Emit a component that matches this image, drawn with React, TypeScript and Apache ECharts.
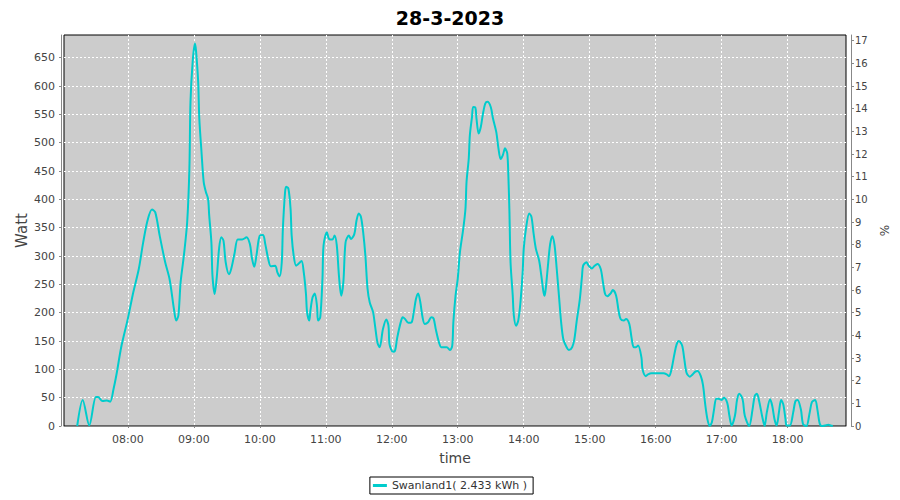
import React, { useEffect, useRef } from "react";
import * as echarts from "echarts";

const TITLE = "28-3-2023";
const SERIES_NAME = "Swanland1( 2.433 kWh )";
const X_NAME = "time";
const Y_NAME = "Watt";
const Y2_NAME = "%";
const X_MIN = "07:02";
const X_MAX = "18:53";
const WATT_MAX = 690;
const WATT_STEP = 50;
const PCT_MAX = 17.25;
const PCT_STEP = 1;

const times: string[] = [
  "07:14", "07:19", "07:25", "07:31", "07:33", "07:37", "07:41", "07:44", "07:47", "07:50",
  "07:54", "08:00", "08:05", "08:10", "08:14", "08:18", "08:22", "08:25", "08:29", "08:34",
  "08:38", "08:42", "08:44", "08:46", "08:48", "08:51", "08:54", "08:56", "08:57", "08:59",
  "09:01", "09:02", "09:04", "09:05", "09:07", "09:09", "09:11", "09:13", "09:14", "09:16",
  "09:17", "09:19", "09:21", "09:23", "09:25", "09:27", "09:29", "09:32", "09:34", "09:37",
  "09:40", "09:44", "09:48", "09:51", "09:53", "09:55", "09:57", "10:00", "10:03", "10:05",
  "10:08", "10:10", "10:14", "10:16", "10:18", "10:20", "10:21", "10:23", "10:24", "10:26",
  "10:28", "10:29", "10:31", "10:33", "10:35", "10:38", "10:40", "10:42", "10:43", "10:45",
  "10:46", "10:48", "10:50", "10:52", "10:53", "10:55", "10:57", "10:58", "11:01", "11:03",
  "11:06", "11:08", "11:10", "11:12", "11:14", "11:16", "11:18", "11:21", "11:23", "11:26",
  "11:28", "11:30", "11:32", "11:34", "11:36", "11:38", "11:40", "11:43", "11:45", "11:47",
  "11:49", "11:52", "11:55", "11:57", "11:58", "12:01", "12:03", "12:05", "12:08", "12:10",
  "12:12", "12:15", "12:18", "12:20", "12:22", "12:24", "12:26", "12:28", "12:30", "12:33",
  "12:36", "12:38", "12:40", "12:43", "12:45", "12:47", "12:50", "12:53", "12:55", "12:56",
  "12:58", "13:00", "13:02", "13:05", "13:07", "13:08", "13:10", "13:11", "13:13", "13:14",
  "13:16", "13:17", "13:19", "13:21", "13:23", "13:25", "13:27", "13:30", "13:32", "13:35",
  "13:37", "13:39", "13:41", "13:43", "13:45", "13:46", "13:47", "13:48", "13:50", "13:51",
  "13:53", "13:55", "13:57", "13:59", "14:00", "14:02", "14:05", "14:07", "14:09", "14:11",
  "14:14", "14:16", "14:18", "14:19", "14:20", "14:22", "14:24", "14:26", "14:28", "14:30",
  "14:32", "14:34", "14:36", "14:39", "14:41", "14:44", "14:46", "14:48", "14:51", "14:53",
  "14:54", "14:57", "14:59", "15:02", "15:04", "15:07", "15:10", "15:12", "15:14", "15:16",
  "15:19", "15:21", "15:24", "15:26", "15:28", "15:31", "15:33", "15:36", "15:38", "15:40",
  "15:42", "15:44", "15:47", "15:48", "15:51", "15:53", "15:56", "16:00", "16:04", "16:07",
  "16:10", "16:12", "16:14", "16:17", "16:19", "16:21", "16:24", "16:26", "16:28", "16:31",
  "16:33", "16:36", "16:38", "16:41", "16:43", "16:45", "16:47", "16:49", "16:51", "16:53",
  "16:55", "16:57", "17:00", "17:02", "17:05", "17:07", "17:09", "17:12", "17:14", "17:16",
  "17:19", "17:21", "17:25", "17:28", "17:30", "17:32", "17:34", "17:37", "17:39", "17:41",
  "17:44", "17:46", "17:48", "17:50", "17:52", "17:54", "17:56", "17:58", "17:59", "18:02",
  "18:05", "18:07", "18:09", "18:12", "18:14", "18:17", "18:20", "18:22", "18:25", "18:27",
  "18:29", "18:31", "18:34", "18:37", "18:39", "18:41",
];

const watts: number[] = [
  0, 46, 1, 51, 51, 44, 45, 43, 65, 94,
  139, 189, 236, 277, 324, 363, 382, 377, 336, 289,
  259, 206, 186, 195, 253, 301, 360, 454, 572, 643,
  675, 663, 607, 543, 484, 431, 413, 401, 372, 324,
  265, 233, 265, 313, 333, 327, 289, 268, 277, 304,
  329, 329, 333, 321, 295, 281, 301, 336, 337, 321,
  292, 282, 283, 271, 264, 289, 348, 413, 422, 419,
  383, 336, 298, 283, 286, 291, 271, 233, 201, 186,
  203, 227, 234, 212, 186, 192, 260, 319, 342, 330,
  329, 336, 319, 265, 230, 254, 324, 336, 330, 339,
  363, 375, 369, 342, 301, 242, 218, 201, 174, 147,
  139, 171, 188, 177, 144, 131, 133, 156, 182, 192,
  189, 182, 183, 201, 224, 234, 218, 192, 180, 183,
  192, 190, 171, 147, 139, 139, 139, 134, 142, 183,
  230, 260, 307, 348, 383, 431, 472, 513, 546, 563,
  562, 543, 516, 528, 552, 569, 572, 563, 543, 519,
  490, 471, 478, 490, 481, 443, 377, 289, 230, 195,
  177, 186, 218, 271, 313, 348, 375, 369, 339, 313,
  292, 265, 236, 230, 242, 283, 321, 335, 319, 277,
  230, 183, 153, 139, 134, 139, 153, 183, 224, 265,
  283, 289, 283, 278, 282, 286, 277, 254, 233, 229,
  234, 240, 230, 206, 189, 186, 189, 180, 156, 139,
  139, 142, 121, 100, 88, 91, 93, 93, 93, 93,
  91, 88, 97, 127, 144, 150, 142, 118, 94, 87,
  90, 96, 97, 88, 72, 38, 12, 0, 6, 29,
  48, 48, 46, 50, 41, 18, 1, 18, 47, 57,
  47, 18, 0, 29, 53, 57, 44, 15, 0, 24,
  47, 35, 12, 1, 24, 46, 38, 12, 1, 1,
  24, 44, 46, 29, 3, 0, 24, 42, 46, 29,
  5, 0, 1, 2, 1, 0,
];

const FONT = "DejaVu Sans";

function ts(hm: string): number {
  const [h, m] = hm.split(":").map(Number);
  return new Date(2023, 2, 28, h, m).getTime();
}

function pad(n: number): string {
  return n < 10 ? "0" + n : String(n);
}

export default function App() {
  const ref = useRef<HTMLDivElement>(null);

  useEffect(() => {
    if (!ref.current) return;
    const chart = echarts.init(ref.current, null, { renderer: "svg" });
    const axisGray = "#888888";
    const labelColor = "#444444";

    chart.setOption({
      animation: false,
      backgroundColor: "#ffffff",
      title: {
        text: TITLE,
        left: "center",
        top: 3,
        textStyle: { fontFamily: FONT, fontSize: 19, fontWeight: "bold", color: "#000" },
      },
      legend: {
        data: [SERIES_NAME],
        left: "center",
        top: 477,
        icon: "rect",
        itemWidth: 14,
        itemHeight: 3,
        itemGap: 4,
        padding: [3, 6, 3, 3],
        borderColor: "#000",
        borderWidth: 1,
        borderRadius: 0,
        backgroundColor: "#fff",
        textStyle: { fontFamily: FONT, fontSize: 11, color: "#333" },
      },
      grid: {
        left: 64,
        right: 54,
        top: 35,
        bottom: 74,
        show: true,
        backgroundColor: "#cccccc",
        borderColor: "#000000",
        borderWidth: 1,
        containLabel: false,
      },
      xAxis: {
        type: "time",
        min: ts(X_MIN),
        max: ts(X_MAX),
        minInterval: 3600 * 1000,
        maxInterval: 3600 * 1000,
        offset: 4,
        name: X_NAME,
        nameLocation: "middle",
        nameGap: 21,
        nameTextStyle: { fontFamily: FONT, fontSize: 14, color: labelColor },
        axisLine: { show: true, lineStyle: { color: axisGray } },
        axisTick: { show: true, length: 2, lineStyle: { color: axisGray } },
        axisLabel: {
          fontFamily: FONT,
          fontSize: 11,
          color: labelColor,
          margin: 4,
          showMinLabel: false,
          showMaxLabel: false,
          hideOverlap: false,
          formatter: (v: number) => {
            const d = new Date(v);
            return pad(d.getHours()) + ":" + pad(d.getMinutes());
          },
        },
        splitLine: {
          show: true,
          showMinLine: false,
          showMaxLine: false,
          lineStyle: { color: "#ffffff", type: [2, 2], width: 1 },
        },
      },
      yAxis: [
        {
          type: "value",
          position: "left",
          min: 0,
          max: WATT_MAX,
          interval: WATT_STEP,
          offset: 3,
          name: Y_NAME,
          nameLocation: "middle",
          nameGap: 32,
          nameMoveOverlap: false,
          nameTextStyle: { fontFamily: FONT, fontSize: 15, color: labelColor },
          axisLine: { show: true, lineStyle: { color: axisGray } },
          axisTick: { show: true, length: 2, lineStyle: { color: axisGray } },
          axisLabel: {
            fontFamily: FONT,
            fontSize: 11,
            color: labelColor,
            margin: 6,
            showMaxLabel: false,
          },
          splitLine: {
            show: true,
            showMinLine: false,
            showMaxLine: false,
            lineStyle: { color: "#ffffff", type: [2, 2], width: 1 },
          },
        },
        {
          type: "value",
          position: "right",
          min: 0,
          max: PCT_MAX,
          interval: PCT_STEP,
          offset: 5,
          name: Y2_NAME,
          nameLocation: "middle",
          nameGap: 24,
          nameTextStyle: { fontFamily: FONT, fontSize: 12, color: labelColor },
          axisLine: { show: true, lineStyle: { color: axisGray } },
          axisTick: { show: true, length: 3, lineStyle: { color: axisGray } },
          axisLabel: {
            fontFamily: FONT,
            fontSize: 10,
            color: labelColor,
            margin: 4,
            showMaxLabel: false,
          },
          splitLine: { show: false },
        },
      ],
      series: [
        {
          name: SERIES_NAME,
          type: "line",
          xAxisIndex: 0,
          yAxisIndex: 0,
          data: times.map((t, i) => [ts(t), watts[i]]),
          showSymbol: false,
          symbol: "none",
          smooth: 0.3,
          lineStyle: { color: "#00cccc", width: 2 },
          itemStyle: { color: "#00cccc" },
        },
      ],
    });

    return () => chart.dispose();
  }, []);

  return (
    <div
      ref={ref}
      style={{ position: "fixed", left: 0, top: 0, width: 900, height: 500 }}
    />
  );
}
